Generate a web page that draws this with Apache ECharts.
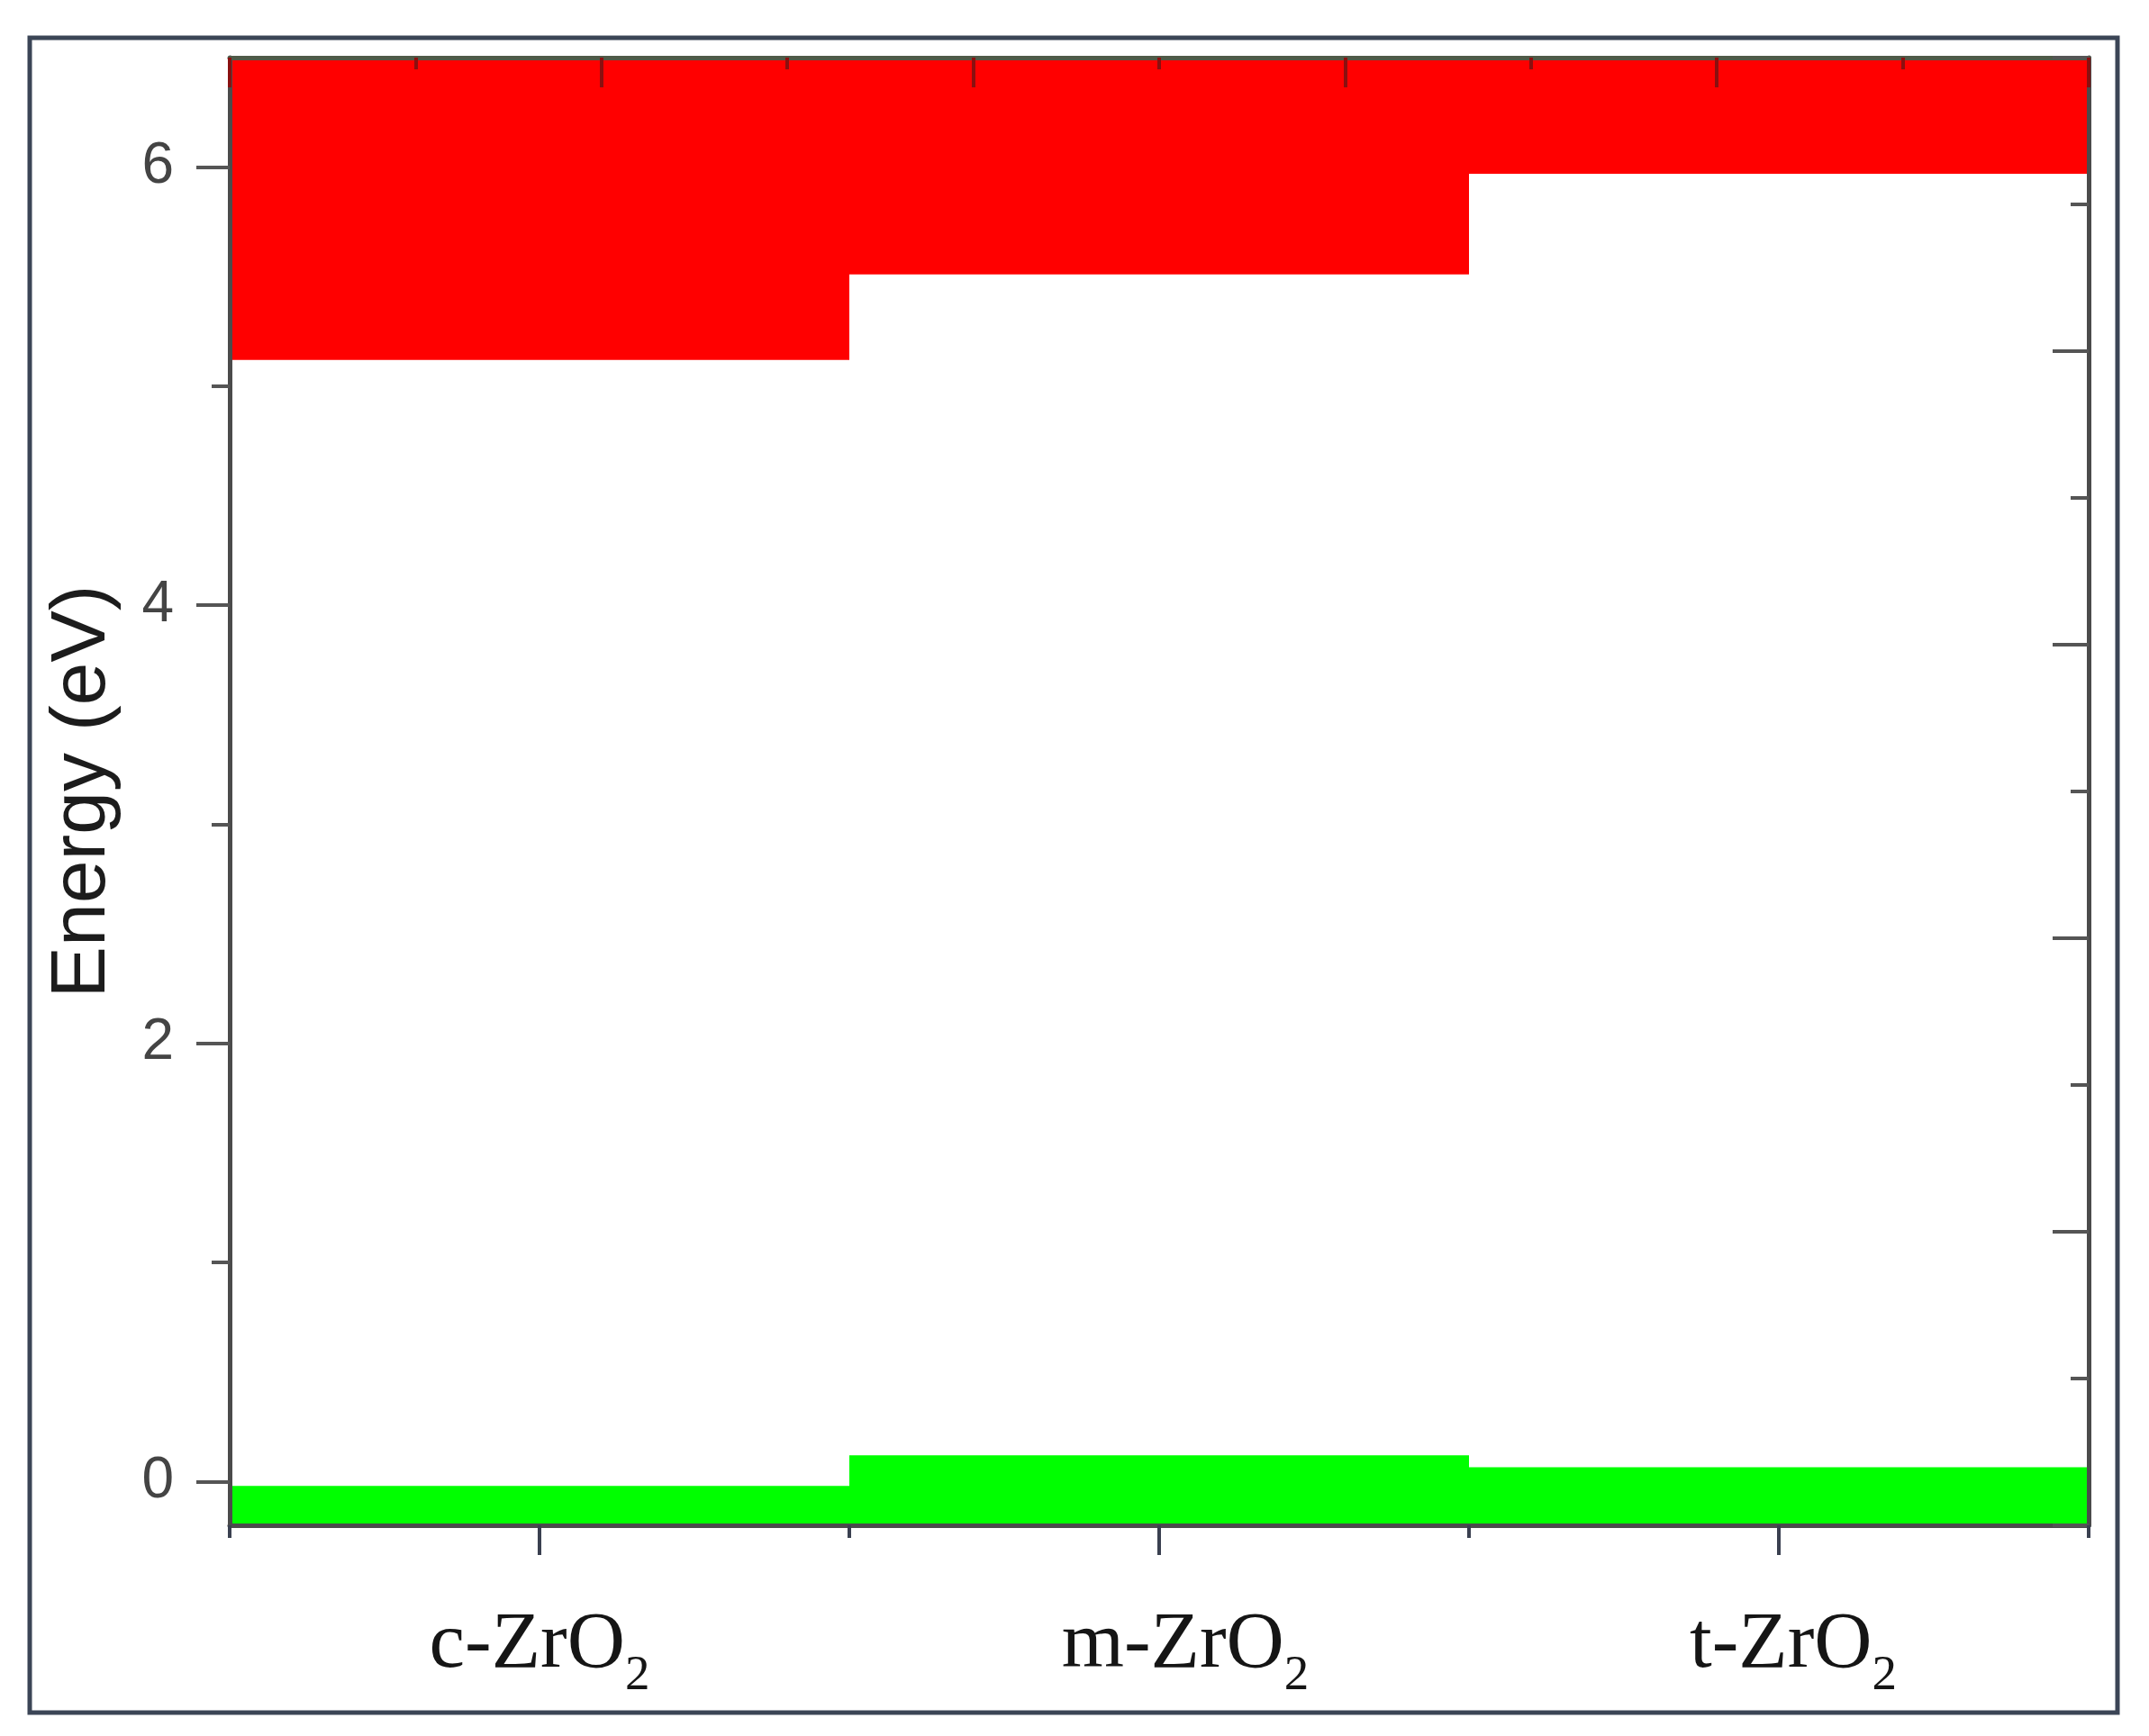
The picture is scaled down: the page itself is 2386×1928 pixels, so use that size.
<!DOCTYPE html>
<html><head><meta charset="utf-8">
<script src="https://cdn.jsdelivr.net/npm/echarts@6/dist/echarts.min.js"></script>
<style>html,body{margin:0;padding:0;background:#fff}#c{width:2386px;height:1928px}</style>
</head><body><div id="c"></div>
<script>
// ---- data ----
const categories = ['c-ZrO2', 'm-ZrO2', 't-ZrO2'];
const valenceTop = [-0.02, 0.12, 0.065];      // top of valence band (green), eV
const conductionBottom = [5.12, 5.51, 5.97];  // bottom of conduction band (red), eV
const yMin = -0.2, yMax = 6.5;
const yLabelValues = [0, 2, 4, 6];
const yMinorValues = [1, 3, 5];

const AX = '#4b4b4b';
const chart = echarts.init(document.getElementById('c'), null, {renderer: 'canvas'});

function renderBand(params, api) {
  const i = api.value(0);
  const p1 = api.coord([i, api.value(1)]);
  const p2 = api.coord([i, api.value(2)]);
  const w = api.size([1, 0])[0];
  return {
    type: 'rect',
    shape: {x: p1[0] - w / 2, y: p2[1], width: w, height: p1[1] - p2[1]},
    style: {fill: api.visual('color')}
  };
}

const greenData = categories.map((c, i) => [i, yMin, valenceTop[i]]);
const redData = categories.map((c, i) => [i, conductionBottom[i], yMax]);

function fmtCat(v) {
  const m = v.match(/^(.*?)(\d)$/);
  return m ? '{a|' + m[1] + '}{s|' + m[2] + '}' : '{a|' + v + '}';
}
// small horizontal label nudges seen in the reference
const labelPadLeft = [0, 58, 32];
const catAxisData = categories.map((c, i) => ({value: c, textStyle: {padding: [0, 0, 0, labelPadLeft[i]]}}));

chart.setOption({
  backgroundColor: '#ffffff',
  animation: false,
  grid: {left: 255, right: 67, top: 64, bottom: 234, containLabel: false, outerBoundsMode: 'none'},
  graphic: [{
    type: 'rect', z: 100, silent: true,
    shape: {x: 33, y: 42, width: 2318, height: 1860},
    style: {fill: 'none', stroke: '#3b4556', lineWidth: 5}
  }],
  xAxis: [
    { // bottom category axis, long ticks at centres + labels
      type: 'category', data: catAxisData, position: 'bottom', z: 5,
      boundaryGap: true,
      axisLine: {show: true, onZero: false, lineStyle: {color: AX, width: 5}},
      axisTick: {show: true, alignWithLabel: true, length: 33, lineStyle: {color: '#3a4050', width: 4}},
      axisLabel: {
        show: true, margin: 84, formatter: fmtCat,
        rich: {
          a: {fontFamily: 'Liberation Serif', fontSize: 89, color: '#151515', lineHeight: 100},
          s: {fontFamily: 'Liberation Serif', fontSize: 55, color: '#151515', lineHeight: 55, padding: [68, 0, 0, 0]}
        }
      },
      splitLine: {show: false}
    },
    { // bottom boundary ticks
      type: 'category', data: categories, position: 'bottom', z: 5,
      boundaryGap: true,
      axisLine: {show: false, onZero: false},
      axisTick: {show: true, alignWithLabel: false, length: 14, lineStyle: {color: '#3a4050', width: 4}},
      axisLabel: {show: false},
      splitLine: {show: false}
    },
    { // top frame axis
      type: 'value', position: 'top', min: 0, max: 5, interval: 1, z: 5,
      axisLine: {show: true, onZero: false, lineStyle: {color: '#4f5a48', width: 5}},
      axisTick: {show: true, inside: true, length: 33, lineStyle: {color: '#8a1010', width: 4}},
      minorTick: {show: true, splitNumber: 2, length: 13, lineStyle: {color: '#8a1010', width: 4}},
      axisLabel: {show: false},
      splitLine: {show: false}, minorSplitLine: {show: false}
    }
  ],
  yAxis: [
    { // left energy axis
      type: 'value', position: 'left', min: yMin, max: yMax, z: 5,
      name: 'Energy (eV)', nameLocation: 'middle', nameGap: 120, nameRotate: 90,
      nameTextStyle: {fontFamily: 'Liberation Sans', fontSize: 86, color: '#1c1c1c'},
      axisLine: {show: true, onZero: false, lineStyle: {color: AX, width: 5}},
      axisTick: {show: true, inside: false, length: 37, customValues: yLabelValues, lineStyle: {color: '#555', width: 4}},
      axisLabel: {show: true, margin: 62, customValues: yLabelValues,
        fontFamily: 'Liberation Sans', fontSize: 64, color: '#444'},
      splitLine: {show: false}
    },
    { // left minor ticks
      type: 'value', position: 'left', min: yMin, max: yMax, z: 5,
      axisLine: {show: false, onZero: false},
      axisTick: {show: true, inside: false, length: 20, customValues: yMinorValues, lineStyle: {color: '#555', width: 4}},
      axisLabel: {show: false},
      splitLine: {show: false}
    },
    { // right frame axis
      type: 'value', position: 'right', min: 0, max: 5, interval: 1, z: 5,
      axisLine: {show: true, onZero: false, lineStyle: {color: AX, width: 5}},
      axisTick: {show: true, inside: true, length: 40, lineStyle: {color: '#555', width: 4}},
      minorTick: {show: true, splitNumber: 2, length: 20, lineStyle: {color: '#555', width: 4}},
      axisLabel: {show: false},
      splitLine: {show: false}, minorSplitLine: {show: false}
    }
  ],
  series: [
    {
      name: 'Valence band', type: 'custom', xAxisIndex: 0, yAxisIndex: 0, z: 1,
      renderItem: renderBand, data: greenData, itemStyle: {color: '#00ff00'},
      encode: {x: 0, y: [1, 2]}, clip: true, silent: true
    },
    {
      name: 'Conduction band', type: 'custom', xAxisIndex: 0, yAxisIndex: 0, z: 1,
      renderItem: renderBand, data: redData, itemStyle: {color: '#ff0000'},
      encode: {x: 0, y: [1, 2]}, clip: true, silent: true
    }
  ]
});
</script>
</body></html>
